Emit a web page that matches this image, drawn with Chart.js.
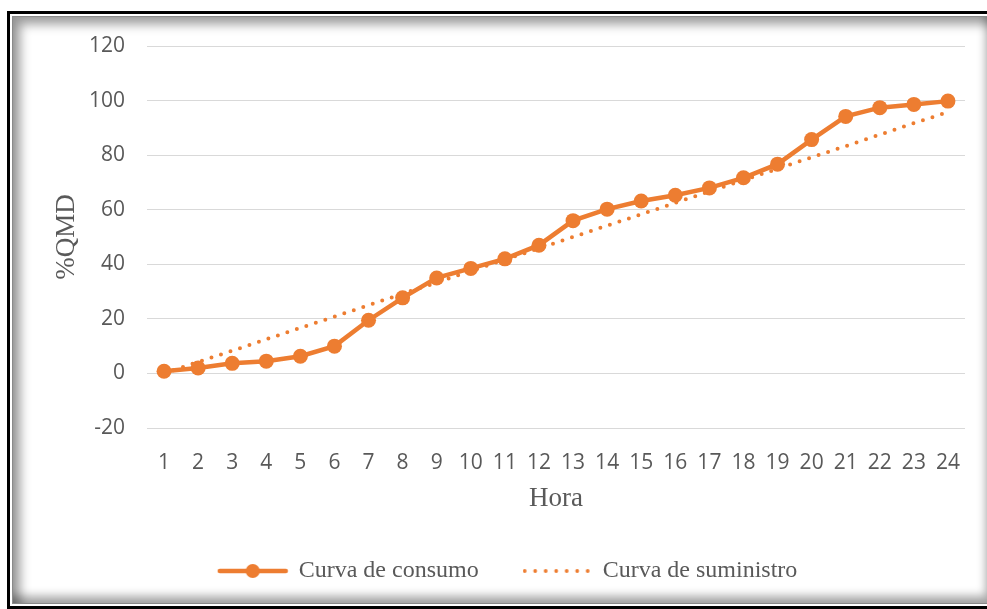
<!DOCTYPE html>
<html>
<head>
<meta charset="utf-8">
<script src="https://cdn.jsdelivr.net/npm/chart.js@4"></script>
<style>
  html, body { margin: 0; padding: 0; background: #fff; }
  #wrap { position: relative; width: 987px; height: 609px; overflow: hidden; }
  #frame { position: absolute; left: 7px; top: 11px; width: 990px; height: 598px; border: 3px solid #000; box-sizing: border-box; }
  #inner { position: absolute; left: 2px; top: 2px; right: 2px; bottom: 2px; border: 1px solid #8a8a8a;
    box-shadow: inset 7px 7px 11px rgba(0,0,0,0.4), inset -5px -7px 10px rgba(0,0,0,0.35); }
  #grafico { position: absolute; left: 0; top: 0; }
</style>
</head>
<body>
<div id="wrap">
  <div id="frame"><div id="inner"></div></div>
  <canvas id="grafico" width="987" height="609"></canvas>
</div>
<script>
const horas = ['1','2','3','4','5','6','7','8','9','10','11','12','13','14','15','16','17','18','19','20','21','22','23','24'];
const consumo = [0.8, 2, 3.7, 4.5, 6.3, 10, 19.5, 27.7, 35, 38.5, 42, 47, 56, 60.2, 63.2, 65.3, 68, 71.7, 76.7, 85.7, 94.2, 97.4, 98.6, 99.8];
const suministro = [0, 4.2, 8.3, 12.5, 16.7, 20.8, 25, 29.2, 33.3, 37.5, 41.7, 45.8, 50, 54.2, 58.3, 62.5, 66.7, 70.8, 75, 79.2, 83.3, 87.5, 91.7, 95.8];
const ejeY = [-20, 0, 20, 40, 60, 80, 100, 120];

const naranja = '#ED7D31';
const gris = '#595959';

// iconos de la leyenda
function iconoConsumo() {
  const c = document.createElement('canvas');
  c.width = 72; c.height = 16;
  const g = c.getContext('2d');
  g.strokeStyle = naranja; g.fillStyle = naranja;
  g.lineWidth = 4.5; g.lineCap = 'round';
  g.beginPath(); g.moveTo(3, 8); g.lineTo(69, 8); g.stroke();
  g.beginPath(); g.arc(36, 8, 7, 0, Math.PI * 2); g.fill();
  return c;
}
function iconoSuministro() {
  const c = document.createElement('canvas');
  c.width = 68; c.height = 8;
  const g = c.getContext('2d');
  g.fillStyle = naranja;
  for (let x = 2; x < 68; x += 10.5) {
    g.beginPath(); g.arc(x, 4, 1.9, 0, Math.PI * 2); g.fill();
  }
  return c;
}

new Chart(document.getElementById('grafico'), {
  type: 'line',
  data: {
    labels: horas,
    datasets: [{
      label: 'Curva de consumo',
      data: consumo,
      borderColor: naranja,
      backgroundColor: naranja,
      borderWidth: 4.5,
      pointRadius: 7.5,
      pointBorderWidth: 0,
      pointStyle: 'circle',
      tension: 0,
      legendIcon: iconoConsumo()
    }, {
      label: 'Curva de suministro',
      data: suministro,
      borderColor: naranja,
      backgroundColor: naranja,
      borderWidth: 4,
      borderDash: [0, 10],
      borderCapStyle: 'round',
      pointRadius: 0,
      tension: 0,
      legendIcon: iconoSuministro()
    }]
  },
  options: {
    responsive: false,
    animation: false,
    layout: { padding: { left: 51, right: 22, top: 46, bottom: 16 } },
    plugins: {
      tooltip: { enabled: false },
      legend: {
        position: 'bottom',
        labels: {
          usePointStyle: true,
          pointStyleWidth: 68,
          padding: 44,
          color: gris,
          font: { family: '"Liberation Serif", "Times New Roman", serif', size: 24 },
          generateLabels: chart => chart.data.datasets.map((ds, i) => ({
            text: ds.label,
            pointStyle: ds.legendIcon,
            fillStyle: naranja,
            strokeStyle: naranja,
            lineWidth: 0,
            hidden: false,
            datasetIndex: i,
            fontColor: gris
          }))
        }
      }
    },
    scales: {
      x: {
        offset: true,
        grid: { display: false, drawTicks: false },
        border: { display: false },
        ticks: { color: gris, padding: 22, maxRotation: 0, autoSkip: false,
          font: { family: '"Open Sans", sans-serif', size: 21 } },
        title: { display: true, text: 'Hora', color: gris, padding: 0,
          font: { family: '"Liberation Serif", "Times New Roman", serif', size: 27 } },
        afterFit: s => { s.height = 87; }
      },
      y: {
        min: -20,
        max: 120,
        afterBuildTicks: s => { s.ticks = ejeY.map(v => ({ value: v })); },
        grid: { color: '#d9d9d9', lineWidth: 1, drawTicks: false },
        border: { display: false },
        ticks: { color: gris, padding: 22,
          font: { family: '"Open Sans", sans-serif', size: 21 } },
        title: { display: true, text: '%QMD', color: gris, padding: 0,
          font: { family: '"Liberation Serif", "Times New Roman", serif', size: 27 } },
        afterFit: s => { s.width = 96; }
      }
    }
  }
});
</script>
</body>
</html>
